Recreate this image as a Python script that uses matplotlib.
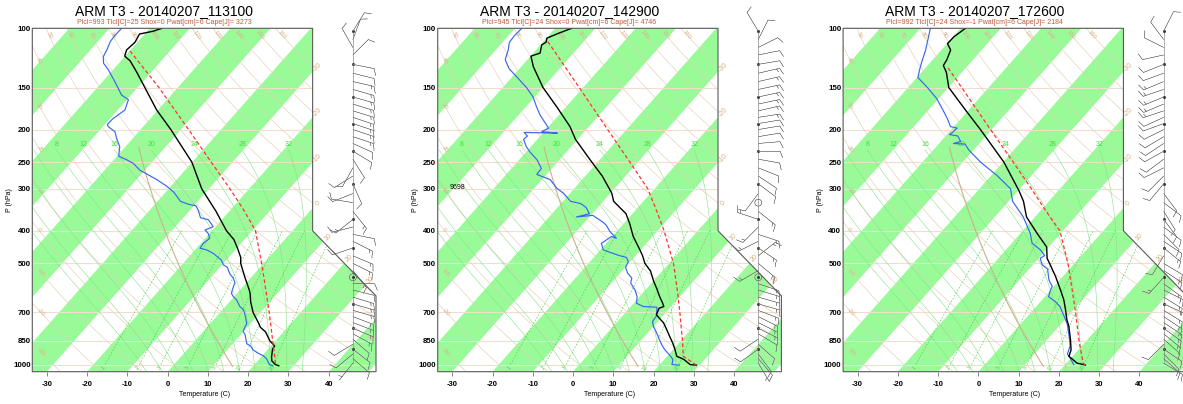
import numpy as np
import matplotlib.pyplot as plt
from matplotlib.patches import Polygon

plt.rcParams['font.family'] = ['Liberation Sans', 'DejaVu Sans']

W, H = 1183, 404

# ---------------- data ----------------
titles = ['ARM T3 - 20140207_113100', 'ARM T3 - 20140207_142900', 'ARM T3 - 20140207_172600']
subtitles = ['Plcl=993 Tlcl[C]=25 Shox=0 Pwat[cm]=6 Cape[J]= 3273',
             'Plcl=945 Tlcl[C]=24 Shox=0 Pwat[cm]=6 Cape[J]= 4746',
             'Plcl=992 Tlcl[C]=24 Shox=-1 Pwat[cm]=6 Cape[J]= 2184']

p_labels = [1000, 850, 700, 500, 400, 300, 250, 200, 150, 100]
t_ticks = [-30, -20, -10, 0, 10, 20, 30, 40]
theta_lines = list(range(-30, 170, 10))      # dry adiabats (C)
moist_lines = list(range(-8, 36, 4))         # saturated adiabats, T at 1000 hPa
moist_labels = [8, 12, 16, 20, 24, 28, 32]
mix_ratios = [1, 2, 3, 5, 8, 12, 20]         # g/kg
iso_labels = [-30, -20, -10, 0, 10, 20, 30]

# panel 1 : 113100
t1_p = [1008, 1000, 975, 950, 900, 880, 850, 800, 775, 750, 700, 650, 620, 600, 550, 500, 480, 450, 425,
        400, 350, 300, 250, 200, 175, 150, 135, 125, 121, 116, 110, 104, 102, 100]
t1_t = [26.3, 25.2, 23.5, 22.6, 21.1, 20.9, 18.6, 15.6, 13.3, 11.7, 8.2, 5.2, 3.6, 2.3, -1.6, -5.7, -7.0, -9.9, -12.6,
        -16.4, -23.3, -31.8, -40.1, -52.5, -60.3, -68.2, -73.6, -77.7, -80.1, -81.0, -80.6, -81.3, -78.5, -77.0]
d1_p = [1008, 1000, 962, 942, 925, 904, 880, 867, 815, 797, 770, 756, 711, 687, 672, 642, 628, 614, 586, 572,
        553, 540, 527, 514, 505, 489, 467, 456, 451, 436, 421, 407, 398, 389, 371, 366, 347, 337, 334, 327,
        307, 295, 282, 264, 252, 246, 240, 225, 214, 203, 196, 193, 186, 175, 163, 158, 150, 142, 133, 127,
        121.5, 116, 109.5, 105, 100]
d1_t = [24.8, 23.7, 21.8, 20.3, 18.4, 16.4, 14.9, 13.5, 11.1, 9.9, 9.3, 9.1, 6.7, 5.2, 3.6, 1.3, -0.2, -1.4, -2.4, -2.8,
        -4.3, -5.8, -7.0, -8.1, -9.7, -11.2, -14.7, -17.1, -19.1, -19.4, -18.9, -20.4, -21.9, -20.6, -23.3, -25.7,
        -28.0, -29.5, -31.5, -34.3, -38.0, -41.0, -44.9, -51.3, -54.4, -56.8, -59.6, -61.4, -63.7, -65.9, -68.7,
        -69.4, -69.3, -68.2, -69.6, -72.3, -74.9, -77.7, -81.1, -83.8, -85.3, -85.9, -86.9, -87.1, -87.0]
r1_p = [993, 880, 850, 700, 600, 500, 400, 350, 300, 250, 200, 150, 115.3]
r1_t = [25.0, 20.6, 19.3, 12.2, 6.4, -0.5, -9.2, -16.2, -24.8, -35.3, -48.1, -64.7, -80.7]

# panel 2 : 142900
t2_p = [1004, 1000, 965, 945, 895, 862, 824, 787, 751, 725, 711, 680, 672, 657, 628, 593, 565, 527, 500, 474,
        456, 416, 381, 356, 327, 309, 275, 246, 214, 196, 171, 150, 144, 130, 121, 118.5, 112, 110, 107, 103.5, 100]
t2_t = [29.2, 27.5, 24.8, 22.4, 20.1, 18.4, 16.2, 14.0, 11.7, 9.4, 8.2, 7.4, 8.2, 7.2, 5.0, 2.4, 0.1, -2.9, -6.0, -8.3,
        -10.2, -14.8, -18.5, -21.6, -27.4, -29.7, -35.8, -42.4, -50.5, -54.7, -62.4, -70.0, -72.0, -77.0, -79.9,
        -78.3, -79.7, -79.2, -79.9, -78.1, -75.9]
d2_p = [1004, 1000, 965, 935, 904, 873, 843, 806, 770, 745, 720, 687, 675, 672, 657, 628, 600, 572, 553, 534,
        514, 494, 480, 474, 467, 456, 436, 416, 421, 402, 385, 377, 360, 364, 356, 341, 332, 327, 309, 299,
        282, 272, 261, 246, 233, 225, 214, 209, 204, 205, 203, 198, 181, 171, 160, 150, 140, 132, 124, 116,
        110, 105, 100]
d2_t = [25.0, 23.0, 22.1, 20.2, 18.0, 16.1, 14.4, 12.3, 10.0, 8.7, 8.5, 7.2, 6.6, 3.1, 0.7, -0.6, -2.6, -5.2, -6.0, -8.2,
        -9.9, -10.5, -11.9, -14.1, -16.1, -19.3, -21.2, -20.2, -18.6, -21.7, -24.0, -25.5, -29.5, -33.2, -30.7,
        -32.9, -35.1, -38.1, -41.7, -44.4, -47.9, -52.4, -52.6, -55.6, -59.1, -61.1, -63.4, -63.2, -64.8, -56.4,
        -60.6, -59.7, -64.7, -67.4, -70.4, -74.1, -78.6, -82.5, -85.5, -86.9, -88.3, -88.5, -88.3]
r2_p = [1004, 975, 945, 850, 700, 600, 500, 400, 350, 300, 250, 200, 150, 108.4]
r2_t = [29.2, 26.7, 24.0, 20.4, 13.5, 7.9, 1.1, -8.4, -14.5, -21.7, -32.0, -44.7, -61.0, -79.5]

# panel 3 : 172600
t3_p = [1003, 990, 945, 904, 843, 770, 737, 687, 642, 600, 547, 509, 483, 447, 407, 364, 327, 305, 250, 200,
        175, 150, 135, 129, 124, 116, 111, 106, 100]
t3_t = [25.1, 22.6, 19.1, 18.2, 15.8, 12.5, 10.6, 8.0, 5.4, 2.4, -1.8, -5.3, -7.9, -10.5, -15.9, -22.1, -26.3, -29.6,
        -39.8, -52.8, -60.8, -69.9, -73.9, -76.1, -76.5, -77.7, -79.9, -79.8, -78.8]
d3_p = [1000, 955, 930, 880, 843, 806, 760, 720, 695, 672, 650, 628, 600, 586, 560, 520, 505, 483, 474, 456,
        436, 407, 364, 327, 300, 275, 250, 230, 221, 220, 217, 209, 207, 204, 198, 196, 186, 175, 162, 150,
        140, 132, 125, 116, 110, 100]
d3_t = [22.1, 19.7, 18.2, 17.1, 15.6, 13.9, 11.7, 9.2, 7.5, 5.9, 3.7, 0.9, -0.1, -0.4, -2.7, -5.4, -7.7, -9.6, -9.1,
        -11.4, -14.9, -17.6, -22.9, -29.0, -32.3, -38.3, -45.6, -51.2, -53.4, -56.4, -55.1, -57.0, -59.4, -59.1,
        -58.9, -60.9, -63.3, -66.4, -70.4, -75.2, -79.8, -81.2, -82.4, -83.9, -85.2, -87.5]
r3_p = [1003, 992, 850, 700, 600, 500, 400, 350, 300, 250, 200, 150, 130]
r3_t = [25.1, 24.2, 18.2, 11.1, 5.3, -1.6, -10.8, -18.5, -27.1, -37.5, -50.3, -66.7, -74.9]

# winds (knots)
wind_p = [102, 108, 114, 120, 128, 136, 144, 152, 160, 168, 176, 184, 192, 200, 210, 220, 232, 245, 260, 275,
          290, 310, 330, 350, 370, 390, 410, 430, 450, 475, 500, 525, 550, 575, 600, 630, 660, 690, 720, 750,
          780, 810, 840, 870, 900, 930, 960, 990]
w1_u = [-5, -3, 4, -6, -10, -12, -13, -14, -14, -13, -13, -12, -12, -12, -12, -11, -10, -5, 5, 8,
        -4, 10, 12, -8, 10, 12, -10, -12, 12, -12, -12, -8, 0, -10, -12, -13, -14, -14, -13, -13,
        -12, -11, -8, 10, -9, 6, -7, 4]
w1_v = [-8, -8, -7, -6, 2, 3, 3, 4, 4, 4, 4, 4, 4, 4, 4, 5, 6, 8, 9, 5,
        9, 4, -2, 10, 8, 3, 2, 6, 4, 5, 6, 10, 0, 0, 3, 4, 4, 4, 5, 5,
        5, 6, 7, 6, 7, 5, 6, 5]
w2_u = [6, -4, -8, -10, -12, -13, -13, -14, -14, -14, -13, -13, -12, -12, -12, -12, -11, -11, -10, -9,
        -8, 6, 0, -10, 12, 10, -12, 12, -12, -10, -12, 12, 0, -12, -13, -14, -14, -13, -12, -12,
        -12, -10, 9, -9, 7, -6, -6, -3]
w2_v = [-10, -8, -4, -2, -2, -3, -3, -3, -3, -3, -3, -2, -2, -2, -2, -1, 0, 2, 4, 6,
        6, 8, 0, 8, -4, 10, 4, 6, 8, -8, 10, 7, 0, 4, 4, 4, 4, 5, 6, 6,
        6, 6, 6, 8, 5, 8, 7, 5]
w3_u = [-4, 6, 8, 9, 10, 11, 12, 12, 12, 12, 12, 11, 11, 10, 10, 9, 9, 8, 8, 6,
        5, -6, -8, -5, -6, -8, -8, -9, -10, 6, -10, -12, 9, -11, -12, -13, -13, -13, -12, -12,
        -11, -11, -9, 8, -9, -8, -9, -10]
w3_v = [-8, -8, -4, 2, 4, 4, 5, 4, 5, 5, 4, 5, 4, 5, 6, 6, 5, 6, 4, 6,
        6, 8, 6, 8, 8, 6, 8, 6, 8, 10, 6, 8, 10, 8, 6, 8, 6, 8, 8, 8,
        8, 9, 8, 8, 6, 8, 8, 6]
wind_x = 24.0   # skewed x position of the barb column

panels = [
    (t1_p, t1_t, d1_p, d1_t, r1_p, r1_t, w1_u, w1_v),
    (t2_p, t2_t, d2_p, d2_t, r2_p, r2_t, w2_u, w2_v),
    (t3_p, t3_t, d3_p, d3_t, r3_p, r3_t, w3_u, w3_v),
]

# skew-T frame (NCL style coordinates)
xbnd = [-19.0, 27.1, 27.1, 18.6, 18.6, -19.0, -19.0]
ybnd = [-0.9346, -0.9346, 9.0, 17.53, 44.061, 44.061, -0.9346]

band_color = '#98fb98'
tan_line = '#e4cfb6'
tan_text = '#d8b084'
green_text = '#3ee03e'


def sky(p):
    return 132.182 - 44.061 * np.log10(np.asarray(p, dtype=float))


def skx(t, p):
    return 0.54 * np.asarray(t, dtype=float) + 0.90692 * sky(p)


def moist_adiabat(t0, pres):
    rd, cp, lv, eps = 287.04, 1005.7, 2.501e6, 0.622

    def rate(tk, p):
        es = 6.112 * np.exp(17.67 * (tk - 273.15) / (tk - 29.65))
        rs = eps * es / (p - es)
        return (rd * tk + lv * rs) / (cp + lv * lv * rs * eps / (rd * tk * tk)) / p

    tk = t0 + 273.15
    out = [tk]
    for p0, p1 in zip(pres[:-1], pres[1:]):
        k1 = rate(tk, p0)
        k2 = rate(tk + k1 * (p1 - p0), p1)
        tk = tk + 0.5 * (k1 + k2) * (p1 - p0)
        out.append(tk)
    return np.array(out) - 273.15


def screen_angle(ax, xa, ya, xb, yb):
    a = ax.transData.transform([(xa, ya), (xb, yb)])
    return np.degrees(np.arctan2(a[1, 1] - a[0, 1], a[1, 0] - a[0, 0]))


fig = plt.figure(figsize=(W / 100, H / 100), dpi=100)

for i, (tp, tt, dp, dt, rp, rt, wu, wv) in enumerate(panels):
    left = 32.3 + 405.4 * i
    ax = fig.add_axes([left / W, (H - 371.7) / H, 343.7 / W, 343.4 / H])
    ax.set_xlim(-19.0, 27.1)
    ax.set_ylim(-0.9346, 44.061)
    for s in ax.spines.values():
        s.set_visible(False)
    clip = Polygon(np.column_stack([xbnd, ybnd]), closed=True, transform=ax.transData)

    def clipped(artists):
        for a in artists:
            a.set_clip_path(clip)

    # isotherm bands
    for t0 in range(-120, 60, 20):
        xs = [skx(t0, 1060), skx(t0 + 10, 1060), skx(t0 + 10, 95), skx(t0, 95)]
        ys = [sky(1060), sky(1060), sky(95), sky(95)]
        clipped(ax.fill(xs, ys, color=band_color, lw=0, zorder=1))

    # isobars
    for p in p_labels:
        clipped(ax.plot([-19.0, 27.1], [sky(p), sky(p)], color='#efdfcf', lw=0.8, zorder=2))

    # dry adiabats with labels
    pp = np.logspace(np.log10(1050), 2, 200)
    y_top_lab = sky(104.8)
    for th in theta_lines:
        tl = (th + 273.15) * (pp / 1000.0) ** 0.2857 - 273.15
        xs, ys = skx(tl, pp), sky(pp)
        clipped(ax.plot(xs, ys, color=tan_line, lw=0.45, zorder=2))
        xt = np.interp(y_top_lab, ys, xs)
        if -18.5 < xt < 18.0:
            ang = screen_angle(ax, np.interp(y_top_lab + 0.5, ys, xs), y_top_lab + 0.5,
                               np.interp(y_top_lab - 0.5, ys, xs), y_top_lab - 0.5)
            ax.text(xt, y_top_lab, str(th), fontsize=4.3, color=tan_text, rotation=ang,
                    rotation_mode='anchor', ha='center', va='center', zorder=3)
        if xs.min() < -18.3 < xs.max():
            yl = np.interp(-18.3, xs[::-1], ys[::-1])
            if yl < y_top_lab - 1.5:
                ang = screen_angle(ax, np.interp(yl + 0.5, ys, xs), yl + 0.5,
                                   np.interp(yl - 0.5, ys, xs), yl - 0.5)
                ax.text(-18.3, yl, str(th), fontsize=4.3, color=tan_text, rotation=ang,
                        rotation_mode='anchor', ha='left', va='center', zorder=3)

    # standard atmosphere up to the tropopause
    ps = np.linspace(1013.25, 226.3, 60)
    ts = 288.15 * (ps / 1013.25) ** 0.190263 - 273.15
    clipped(ax.plot(skx(ts, ps), sky(ps), color='#cdb08e', lw=0.8, zorder=2))

    # saturated adiabats
    pu = np.linspace(1000, 230, 160)
    pdn = np.linspace(1000, 1050, 8)
    for t0 in moist_lines:
        tu = moist_adiabat(t0, pu)
        tdn = moist_adiabat(t0, pdn)
        pl = np.concatenate([pdn[::-1], pu[1:]])
        tl = np.concatenate([tdn[::-1], tu[1:]])
        clipped(ax.plot(skx(tl, pl), sky(pl), color='#86e286', lw=0.4, zorder=2))
        if t0 in moist_labels:
            ax.text(skx(tu[-1], 230), sky(222), str(t0), fontsize=5, color=green_text,
                    ha='center', va='center', zorder=3)

    # mixing ratio lines
    pm = np.linspace(1000, 400, 40)
    for w in mix_ratios:
        e = w * pm / (622.0 + w)
        lg = np.log(e / 6.112)
        tdm = 243.5 * lg / (17.67 - lg)
        clipped(ax.plot(skx(tdm, pm), sky(pm), color='#44cc44', lw=0.45, ls=(0, (2.5, 2.5)), zorder=2))
        ax.text(skx(tdm[0], 1000) - 0.2, sky(1022), str(w), fontsize=3.8, color=green_text,
                rotation=50, ha='center', va='center', zorder=3)

    # isotherm labels on right boundary
    for tv in iso_labels:
        yv = (18.6 - 0.54 * tv) / 0.90692
        if yv >= 17.53:
            xv = 18.6
        else:
            s = (27.1 - 0.54 * tv - 0.90692 * 9.0) / (8.5 + 0.90692 * 8.53)
            xv, yv = 27.1 - 8.5 * s, 9.0 + 8.53 * s
        ax.annotate(str(tv), (xv, yv), xytext=(3.6, 3.4), textcoords='offset points',
                    fontsize=5, color=tan_text, rotation=45, ha='center', va='center', zorder=3)

    # sounding
    ax.plot(skx(dt, dp), sky(dp), color='#3a66ee', lw=0.85, zorder=5)
    ax.plot(skx(tt, tp), sky(tp), color='black', lw=1.0, zorder=5)
    ax.plot(skx(rt, rp), sky(rp), color='#ff3333', lw=0.9, ls=(0, (3, 2)), zorder=5)

    # winds: column line and barbs
    ax.plot([wind_x, wind_x], [sky(max(wind_p)), sky(min(wind_p))], color='#8c8c8c',
            lw=0.5, zorder=6, clip_on=False)
    ax.plot(np.full(len(wind_p[::4]), wind_x), sky(wind_p[::4]), ls='none', marker='s',
            ms=1.0, color='#333333', zorder=6, clip_on=False)
    ax.barbs(np.full(len(wind_p), wind_x), sky(wind_p), wu, wv, length=5.6, linewidth=0.3,
             color='#7a7a7a', zorder=6, clip_on=False,
             sizes=dict(emptybarb=0.16, spacing=0.14, height=0.3))

    # frame
    ax.add_patch(Polygon(np.column_stack([xbnd, ybnd]), closed=True, fill=False,
                         edgecolor='#5a5a5a', lw=0.8, zorder=7, clip_on=False))

    ax.set_xticks(skx(t_ticks, 1050))
    ax.set_xticklabels([str(t) for t in t_ticks])
    ax.set_yticks(sky(p_labels))
    ax.set_yticklabels([str(p) for p in p_labels])
    ax.tick_params(axis='x', length=3, width=0.5, color='#555555', pad=4.0, labelsize=5.5)
    ax.tick_params(axis='y', length=0, pad=1.2, labelsize=5.7)
    for lab in ax.get_xticklabels() + ax.get_yticklabels():
        lab.set_fontweight('bold')

    if i == 1:
        ax.text(-17.35, sky(300) + 0.1, '9698', fontsize=5, ha='left', va='center', zorder=6)

    fig.text((164 + 405.4 * i) / W, 1 - 11 / H, titles[i], fontsize=10, ha='center', va='center')
    fig.text((164 + 405.4 * i) / W, 1 - 22 / H, subtitles[i], fontsize=5, color='#c0583a',
             ha='center', va='center')
    fig.text((left - 22.5) / W, 1 - 200 / H, 'P (hPa)', fontsize=5, rotation=90,
             ha='center', va='center')
    fig.text((left + 171.85) / W, 1 - 394 / H, 'Temperature (C)', fontsize=5,
             ha='center', va='center')

fig.savefig('out.png', dpi=100)
